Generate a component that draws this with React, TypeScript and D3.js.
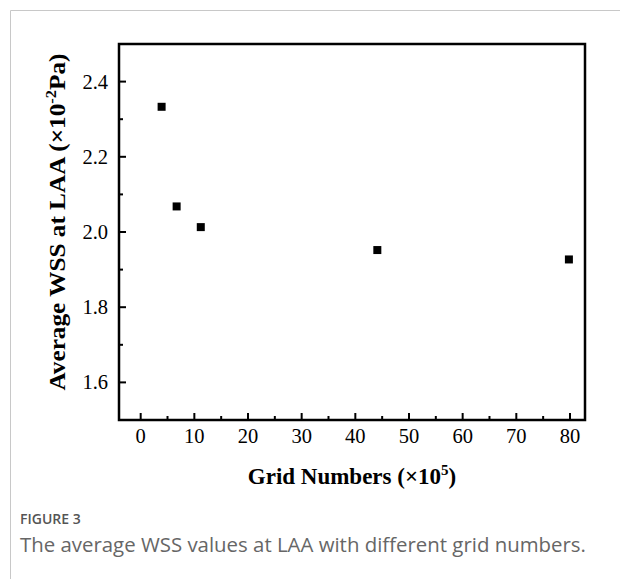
import React from "react";
import * as d3 from "d3";

const gridNumbers = [3.9, 6.7, 11.2, 44.1, 79.8];
const avgWSS = [2.333, 2.068, 2.013, 1.952, 1.927];
const xTicks = [0, 10, 20, 30, 40, 50, 60, 70, 80];
const yTicks = [1.6, 1.8, 2.0, 2.2, 2.4];
const xMinor = [5, 15, 25, 35, 45, 55, 65, 75];
const yMinor = [1.7, 1.9, 2.1, 2.3];

export default function App() {
  const W = 620, H = 579;
  const left = 119, right = 585, top = 44, bottom = 420;
  const x = d3.scaleLinear().domain([-4.04, 82.8]).range([left, right]);
  const y = d3.scaleLinear().domain([1.5, 2.5]).range([bottom, top]);
  const serif = "'Liberation Serif', 'Times New Roman', serif";
  const sans = "'Open Sans', 'Noto Sans', sans-serif";
  return (
    <svg width={W} height={H} style={{ position: "absolute", left: 0, top: 0 }}>
      <rect x={0} y={0} width={W} height={H} fill="#fff" />
      <path d={`M10.5,${H} V10.5 H${W}`} fill="none" stroke="#c8c8c8" strokeWidth={1} />
      {xTicks.map((t) => (
        <g key={"x" + t}>
          <line x1={x(t)} x2={x(t)} y1={bottom} y2={bottom - 7} stroke="#000" strokeWidth={2} />
          <text x={x(t)} y={443} textAnchor="middle" fontFamily={serif} fontSize={20.5}>{t}</text>
        </g>
      ))}
      {xMinor.map((t) => (
        <line key={"xm" + t} x1={x(t)} x2={x(t)} y1={bottom} y2={bottom - 4} stroke="#000" strokeWidth={2} />
      ))}
      {yTicks.map((t) => (
        <g key={"y" + t}>
          <line x1={left} x2={left + 7} y1={y(t)} y2={y(t)} stroke="#000" strokeWidth={2} />
          <text x={108} y={y(t) + 7} textAnchor="end" fontFamily={serif} fontSize={20.5}>{t.toFixed(1)}</text>
        </g>
      ))}
      {yMinor.map((t) => (
        <line key={"ym" + t} x1={left} x2={left + 4} y1={y(t)} y2={y(t)} stroke="#000" strokeWidth={2} />
      ))}
      <rect x={left} y={top} width={right - left} height={bottom - top} fill="none" stroke="#000" strokeWidth={2.5} />
      {gridNumbers.map((g, i) => (
        <rect key={"p" + i} x={x(g) - 4} y={y(avgWSS[i]) - 4} width={8} height={8} fill="#000" />
      ))}
      <text x={352} y={484} textAnchor="middle" fontFamily={serif} fontSize={23} fontWeight="bold">
        Grid Numbers (×10<tspan dy={-9} fontSize={15}>5</tspan><tspan dy={9}>)</tspan>
      </text>
      <text transform={`translate(65,222) rotate(-90)`} textAnchor="middle" fontFamily={serif} fontSize={23} fontWeight="bold" textLength={337} lengthAdjust="spacingAndGlyphs">
        Average WSS at LAA (×10<tspan dy={-9} fontSize={15}>-2</tspan><tspan dy={9}>Pa)</tspan>
      </text>
      <text x={20} y={524} fontFamily={sans} fontSize={14} fontWeight={600} fill="#555">FIGURE 3</text>
      <text x={20} y={552} fontFamily={sans} fontSize={20.4} fill="#666">The average WSS values at LAA with different grid numbers.</text>
    </svg>
  );
}
